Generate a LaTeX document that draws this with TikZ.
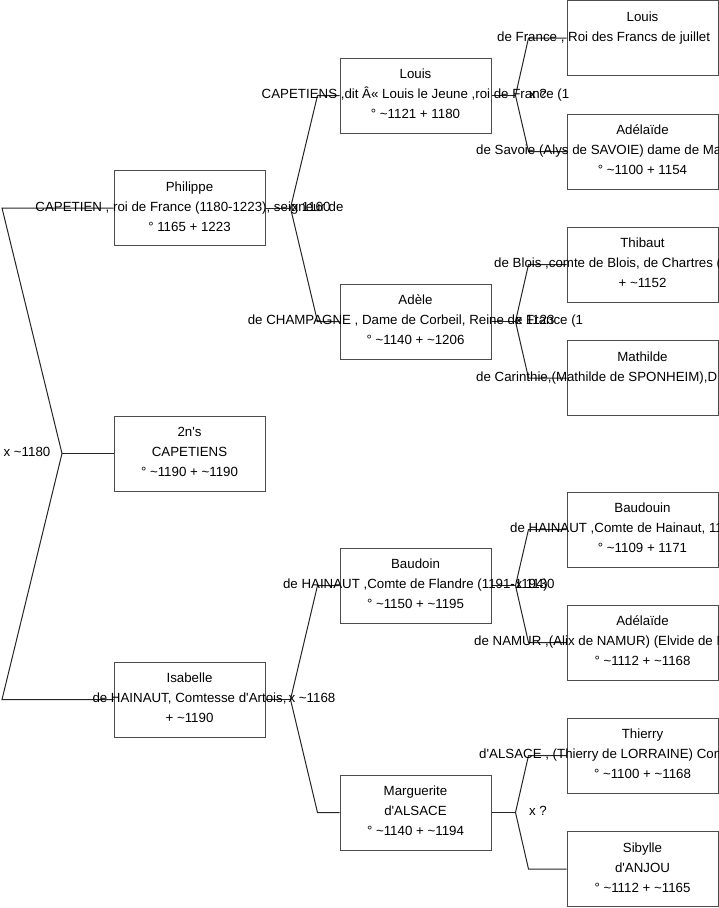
\documentclass[tikz,border=0pt]{standalone}
\usepackage{fontspec}
\newfontfamily\arialf{Liberation Sans}
\newcommand\tld{\textasciitilde}
\newcommand\rowsthree[4]{%
  \node[txt] (#1-r1) at ([yshift=17pt]#1.center) {#2};%
  \node[txt] (#1-r2) at ([yshift=-3pt]#1.center) {#3};%
  \node[txt] (#1-r3) at ([yshift=-23pt]#1.center) {#4};}
\newcommand\rowone[2]{\node[txt] (#1-r1) at ([yshift=17pt]#1.center) {#2};}
\newcommand\rowthree[2]{\node[txt] (#1-r3) at ([yshift=-23pt]#1.center) {#2};}
\newcommand\famlink[5]{%
  \draw[link] (#1.east) -- ++(#4,0) coordinate (#1-j);
  \draw[link] (#1-j) -- ([xshift=-#5pt]#2.west) -- (#2.west);
  \draw[link] (#1-j) -- ([xshift=-#5pt]#3.west) -- (#3.west);}
\begin{document}
\begin{tikzpicture}[x=1pt,y=-1pt,
  box/.style={draw=black!70, line width=1pt, minimum width=151pt, minimum height=75pt, inner sep=0pt},
  txt/.style={font=\arialf\fontsize{13.3}{15}\selectfont, inner sep=0pt, anchor=base, text=black},
  link/.style={draw=black!85, line width=1pt},
  ]
\useasboundingbox (0,0) rectangle (719,908);
\clip (0,0) rectangle (719,908);
\fill[white] (0,0) rectangle (719,908);

% boxes
\node[box] (phil) at (189.5,208) {};
\node[box] (twon) at (189.5,453.5) {};
\node[box] (isab) at (189.5,699.5) {};
\node[box] (louisA) at (415.5,95.5) {};
\node[box] (adele) at (415.5,321.5) {};
\node[box] (baudoin) at (415.5,585.5) {};
\node[box] (marg) at (415.5,812.5) {};
\node[box] (louisB) at (642.5,38) {};
\node[box] (adelA) at (642.5,151.5) {};
\node[box] (thib) at (642.5,264.5) {};
\node[box] (math) at (642.5,378) {};
\node[box] (baudB) at (642.5,529.5) {};
\node[box] (adelB) at (642.5,642.5) {};
\node[box] (thierry) at (642.5,755.5) {};
\node[box] (sib) at (642.5,869) {};

% connectors
\coordinate (j0) at (62,453.5);
\coordinate (r0a) at (2,208);
\coordinate (r0b) at (2,699.5);
\draw[link] (phil.west) -- (r0a) -- (j0) -- (r0b) -- (isab.west);
\draw[link] (j0) -- (twon.west);
\famlink{phil}{louisA}{adele}{25}{22}
\famlink{isab}{baudoin}{marg}{25}{22}
\famlink{louisA}{louisB}{adelA}{24}{38}
\famlink{adele}{thib}{math}{24}{38}
\famlink{baudoin}{baudB}{adelB}{24}{38}
\famlink{marg}{thierry}{sib}{24}{38}

% texts generation 1
\rowsthree{phil}{Philippe}{CAPETIEN , roi de France (1180-1223), seigneur de}{° 1165 + 1223}
\rowsthree{twon}{2n's}{CAPETIENS}{° \tld1190 + \tld1190}
\rowsthree{isab}{Isabelle}{de HAINAUT, Comtesse d'Artois,}{+ \tld1190}
% generation 2
\rowsthree{louisA}{Louis}{CAPETIENS ,dit Â« Louis le Jeune ,roi de France (1}{° \tld1121 + 1180}
\rowsthree{adele}{Adèle}{de CHAMPAGNE , Dame de Corbeil, Reine de France (1}{° \tld1140 + \tld1206}
\rowsthree{baudoin}{Baudoin}{de HAINAUT ,Comte de Flandre (1191-1194)}{° \tld1150 + \tld1195}
\rowsthree{marg}{Marguerite}{d'ALSACE}{° \tld1140 + \tld1194}
% generation 3
\rowone{louisB}{Louis}
\node[txt, anchor=base west] (louisB-r2) at (497,41) {de France , Roi des Francs de juillet};
\rowone{adelA}{Adélaïde}
\node[txt, anchor=base west] (adelA-r2) at (476,154.5) {de Savoie (Alys de SAVOIE) dame de Ma};
\rowthree{adelA}{° \tld1100 + 1154}
\rowone{thib}{Thibaut}
\node[txt, anchor=base west] (thib-r2) at (494,267.5) {de Blois ,comte de Blois, de Chartres (};
\rowthree{thib}{+ \tld1152}
\rowone{math}{Mathilde}
\node[txt, anchor=base west] (math-r2) at (476,381) {de Carinthie,(Mathilde de SPONHEIM),D};
\rowone{baudB}{Baudouin}
\node[txt, anchor=base west] (baudB-r2) at (510,532.5) {de HAINAUT ,Comte de Hainaut, 11};
\rowthree{baudB}{° \tld1109 + 1171}
\rowone{adelB}{Adélaïde}
\node[txt, anchor=base west] (adelB-r2) at (474,645.5) {de NAMUR ,(Alix de NAMUR) (Elvide de N};
\rowthree{adelB}{° \tld1112 + \tld1168}
\rowone{thierry}{Thierry}
\node[txt, anchor=base west] (thierry-r2) at (479,758.5) {d'ALSACE , (Thierry de LORRAINE) Com};
\rowthree{thierry}{° \tld1100 + \tld1168}
\rowsthree{sib}{Sibylle}{d'ANJOU}{° \tld1112 + \tld1165}

% marriage labels
\node[txt] (m0) at (27,456.5) {x \tld1180};
\node[txt] (m1) at (311,211) {x 1160};
\node[txt] (m2) at (312,702.5) {x \tld1168};
\node[txt] (m3) at (538,98.5) {x ?};
\node[txt] (m4) at (535,324.5) {x 1123};
\node[txt] (m5) at (535,588.5) {x 1130};
\node[txt] (m6) at (538,815.5) {x ?};
\end{tikzpicture}
\end{document}
